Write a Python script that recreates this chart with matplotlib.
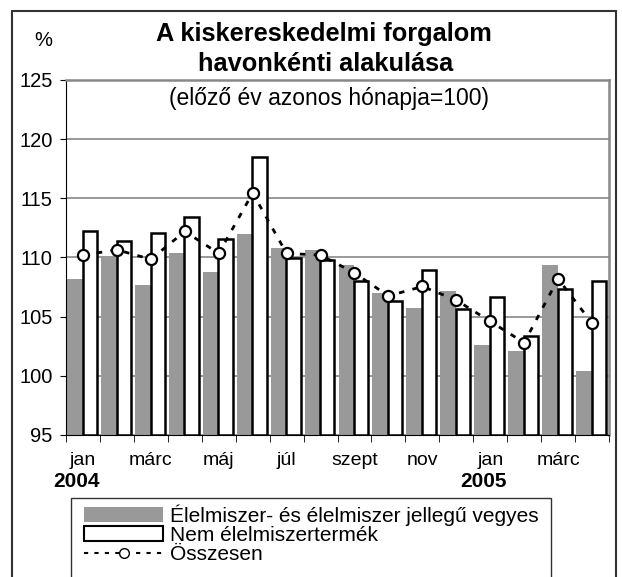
import matplotlib
matplotlib.use('Agg')
import matplotlib.pyplot as plt
import matplotlib.patches as mpatches
from matplotlib.lines import Line2D
import numpy as np

plt.rcParams['font.family'] = ['Liberation Sans', 'DejaVu Sans']

months = ["jan", "febr", "márc", "ápr", "máj", "jún", "júl", "aug",
          "szept", "okt", "nov", "dec", "jan", "febr", "márc", "ápr"]
tick_labels = ["jan", "", "márc", "", "máj", "", "júl", "",
               "szept", "", "nov", "", "jan", "", "márc", ""]
year_labels = {0: "2004", 12: "2005"}

food = [108.15, 110.0, 107.65, 110.4, 108.8, 111.95, 110.8, 110.6,
        109.35, 107.0, 105.75, 107.15, 102.6, 102.1, 109.35, 100.4]
nonfood = [112.2, 111.4, 112.05, 113.4, 111.6, 118.5, 109.95, 109.8,
           108.0, 106.35, 108.95, 105.65, 106.65, 103.4, 107.35, 108.0]
total = [110.2, 110.65, 109.85, 112.2, 110.35, 115.45, 110.35, 110.2,
         108.7, 106.75, 107.55, 106.4, 104.6, 102.8, 108.2, 104.45]

W, H = 622, 577
fig = plt.figure(figsize=(W / 100, H / 100), dpi=100)
fig.patch.set_facecolor('white')

# plot area in pixel coords -> figure fractions
L, R, T, B = 66, 609, 80, 435
ax = fig.add_axes([L / W, 1 - B / H, (R - L) / W, (B - T) / H])

x = np.arange(len(months))
ax.bar(x - 0.24, [v - 95 for v in food], bottom=95, width=0.46,
       color='#999999', linewidth=0, zorder=2)
ax.bar(x + 0.20, [v - 95 for v in nonfood], bottom=95, width=0.42,
       color='white', edgecolor='black', linewidth=1.8, zorder=3)
ax.plot(x, total, color='black', linestyle=(0, (2, 3)), linewidth=2,
        marker='o', markersize=8, markerfacecolor='white',
        markeredgecolor='black', markeredgewidth=1.6, zorder=4)

ax.set_xlim(-0.5, len(months) - 0.5)
ax.set_ylim(95, 125)
ax.set_yticks(range(95, 126, 5))
ax.tick_params(axis='y', labelsize=14.5, length=4.5, direction='out', pad=5)

ax.set_xticks(x)
ax.set_xticklabels(tick_labels, fontsize=14)
ax.tick_params(axis='x', length=0, pad=12)
ax.set_xticks(np.arange(-0.5, len(months), 1), minor=True)
ax.tick_params(axis='x', which='minor', length=5, direction='out')

for i, yr in year_labels.items():
    ax.text(i - 0.2, -0.13, yr, transform=ax.get_xaxis_transform(),
            ha='center', va='center', fontsize=15, fontweight='bold')

ax.yaxis.grid(True, color='#888888', linewidth=1.2)
ax.set_axisbelow(True)
ax.spines['top'].set_color('#888888')
ax.spines['top'].set_linewidth(1.8)
ax.spines['right'].set_color('#888888')
ax.spines['right'].set_linewidth(1.8)
ax.spines['left'].set_color('black')
ax.spines['bottom'].set_color('black')

# titles
fig.text(324 / W, 1 - 34 / H, "A kiskereskedelmi forgalom", ha='center',
         va='center', fontsize=18.3, fontweight='bold')
fig.text(326 / W, 1 - 64 / H, "havonkénti alakulása", ha='center',
         va='center', fontsize=18.3, fontweight='bold')
fig.text(329 / W, 1 - 99 / H, "(előző év azonos hónapja=100)", ha='center',
         va='center', fontsize=16.5)
fig.text(43 / W, 1 - 41 / H, "%", ha='center', va='center', fontsize=14.5)

# outer chart frame and legend box (both run past the bottom edge)
fig.patches.append(mpatches.Rectangle((12 / W, -0.1), (616 - 12) / W,
                                      1.1 - 11 / H, transform=fig.transFigure,
                                      fill=False, edgecolor='#333333',
                                      linewidth=1.5))
fig.patches.append(mpatches.Rectangle((71 / W, -0.1), (551 - 71) / W,
                                      0.1 + 1 - 498 / H, transform=fig.transFigure,
                                      fill=False, edgecolor='#333333',
                                      linewidth=1.0))

handles = [
    mpatches.Patch(facecolor='#999999', edgecolor='none'),
    mpatches.Patch(facecolor='white', edgecolor='black', linewidth=1.5),
    Line2D([], [], color='black', linestyle=(0, (2, 3)), linewidth=1.5,
           marker='o', markersize=7, markerfacecolor='white',
           markeredgecolor='black'),
]
names = ["Élelmiszer- és élelmiszer jellegű vegyes",
         "Nem élelmiszertermék", "Összesen"]
fig.legend(handles, names, loc='upper left',
           bbox_to_anchor=(84 / W, 1 - 504 / H), frameon=False,
           fontsize=15, handlelength=3.8, handleheight=0.72,
           handletextpad=0.33, labelspacing=0.02, borderpad=0,
           borderaxespad=0)

fig.savefig('out.png', dpi=100, facecolor='white')
